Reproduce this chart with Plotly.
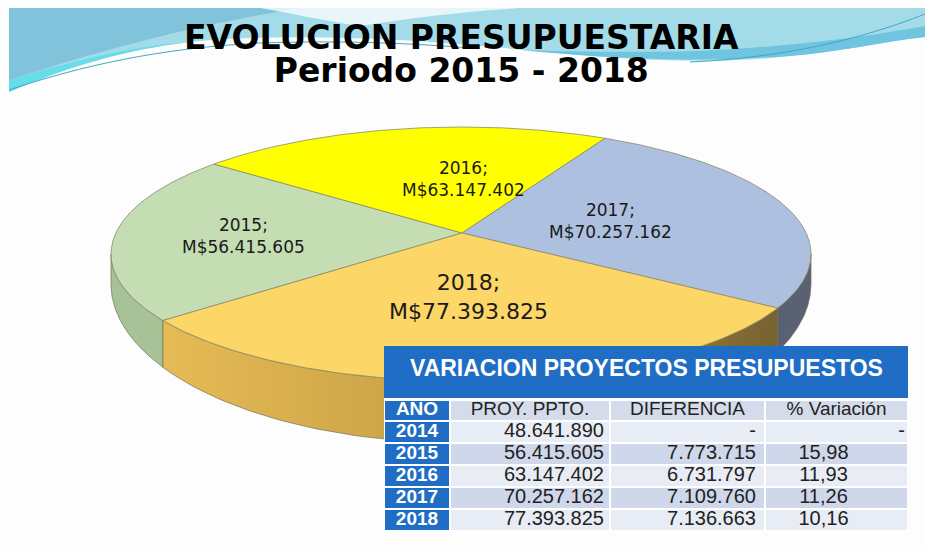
import numpy as np
import plotly.graph_objects as go

# ---------------- data ----------------
anios_pie = ["2015", "2016", "2017", "2018"]
montos_pie = [56415605, 63147402, 70257162, 77393825]

tabla_anios = ["2014", "2015", "2016", "2017", "2018"]
tabla_proy = [48641890, 56415605, 63147402, 70257162, 77393825]
tabla_dif = [None, 7773715, 6731797, 7109760, 7136663]
tabla_var = [None, 15.98, 11.93, 11.26, 10.16]
tabla_encabezados = ["AÑO", "PROY. PPTO.", "DIFERENCIA", "% Variación"]

titulo_1 = "EVOLUCION PRESUPUESTARIA"
titulo_2 = "Periodo 2015 - 2018"
titulo_tabla = "VARIACION PROYECTOS PRESUPUESTOS"

# ---------------- styles ----------------
col_tapa = ["#c4ddb3", "#ffff00", "#adc0df", "#fcd768"]
col_lado = ["#a6c296", "#d8d800", "#596173", "#d9ae4f"]
AZUL = "#1f6dc4"
HEAD = "#d4dbeb"
CLARO, OSCURO = "#e8ecf5", "#cfd7ea"
TXT = "#222222"


def fmt_miles(v):
    return f"{v:,}".replace(",", ".")


def fmt_dec(v):
    return f"{v:.2f}".replace(".", ",")


# geometry of the tilted pie (pixel-like axes)
CX, CY, A, B = 461.0, 254.0, 350.0, 127.0
APX, APY = 462.0, 233.0
T0 = 220.7      # starting angle (deg) of first slice, drawn clockwise
WARP = 12.0     # perspective warp (deg)


def disp(t):
    return t + WARP * np.cos(np.radians(t))


def rim(phi):
    r = np.radians(phi)
    return CX + A * np.cos(r), CY - B * np.sin(r)


def depth(phi):
    return 30 + 32 * np.clip(-np.sin(np.radians(phi)), 0, None)


fig = go.Figure()

total = float(sum(montos_pie))
starts, ends = [], []
acc = 0.0
for v in montos_pie:
    ts = T0 - acc / total * 360.0
    acc += v
    te = T0 - acc / total * 360.0
    starts.append(ts)
    ends.append(te)

# side faces (front part only)
for i, (ts, te) in enumerate(zip(starts, ends)):
    lo, hi = sorted([disp(ts), disp(te)])
    for k in (-2, -1, 0, 1):
        a0 = max(lo + 360 * k, -180.0)
        a1 = min(hi + 360 * k, 0.0)
        if a1 > a0:
            ph = np.linspace(a0, a1, 80)
            xt, yt = rim(ph)
            yb = yt + depth(ph)
            xs = np.concatenate([xt, xt[::-1], xt[:1]])
            ys = np.concatenate([yt, yb[::-1], yt[:1]])
            kw = {}
            if anios_pie[i] == "2018":
                kw["fillgradient"] = dict(
                    type="horizontal",
                    colorscale=[[0, "#e6bb56"], [0.35, "#cfa649"], [0.7, "#a88a3c"], [1, "#766130"]],
                )
            fig.add_trace(go.Scatter(
                x=xs, y=ys, mode="lines", fill="toself", fillcolor=col_lado[i],
                line=dict(color="#70705a", width=0.7), hoverinfo="skip", showlegend=False, **kw))

# top faces
for i, (ts, te) in enumerate(zip(starts, ends)):
    t = np.linspace(ts, te, 160)
    xr, yr = rim(disp(t))
    xs = np.concatenate([[APX], xr, [APX]])
    ys = np.concatenate([[APY], yr, [APY]])
    fig.add_trace(go.Scatter(
        x=xs, y=ys, mode="lines", fill="toself", fillcolor=col_tapa[i],
        line=dict(color="#8a8a6a", width=0.8), hoverinfo="skip", showlegend=False,
        name=anios_pie[i]))

# slice labels
pos_lbl = {"2015": (243, 236, 17), "2016": (463, 179, 17), "2017": (610, 221, 17), "2018": (468, 297, 22)}
for anio, monto in zip(anios_pie, montos_pie):
    x, y, s = pos_lbl[anio]
    fig.add_annotation(x=x, y=y, xref="x", yref="y", showarrow=False,
                       text=f"{anio};<br>M${fmt_miles(monto)}",
                       font=dict(family="DejaVu Sans", size=s, color="#1a1a1a"))

# titles (one text block, line spacing driven by the base size)
big = "<span style='font-size:33px'><b>{}</b></span>"
fig.add_annotation(x=461, y=54, xref="x", yref="y", showarrow=False,
                   text=big.format(titulo_1) + "<br>" + big.format(titulo_2),
                   font=dict(family="DejaVu Sans", size=25, color="#000000"))

# decorative swoosh at top
shapes = [
    dict(type="path", layer="below", line=dict(width=0), fillcolor="#a3dbe9",
         path="M 9,8 L 925,8 L 925,37 C 880,42 840,52 790,56 C 740,62 680,62 620,58 "
              "C 540,52 470,44 400,40 C 320,36 250,36 190,42 C 120,50 60,70 9,92 Z"),
    dict(type="path", layer="below", line=dict(width=0), fillcolor="#80c3da",
         path="M 9,8 L 300,8 C 240,18 150,34 9,80 Z"),
    dict(type="path", layer="below", line=dict(width=0), fillcolor="#66dde9",
         path="M 9,92 C 60,70 120,50 190,42 C 130,46 70,62 9,80 Z"),
    dict(type="path", layer="below", line=dict(width=0), fillcolor="rgba(255,255,255,0.75)",
         path="M 260,8 L 520,8 C 460,12 410,18 360,26 C 320,20 290,13 260,8 Z"),
    dict(type="path", layer="below", line=dict(width=0), fillcolor="#6fc4df",
         path="M 520,50 C 620,60 700,62 790,56 C 840,52 880,42 925,37 L 925,26 "
              "C 870,36 800,46 700,51 C 620,53 560,51 520,50 Z"),
    dict(type="path", layer="below", line=dict(color="#3fa9c6", width=1),
         path="M 9,90 C 80,66 160,48 260,43 C 350,40 420,44 470,48"),
    dict(type="path", layer="below", line=dict(color="#3fa9c6", width=1),
         path="M 690,62 C 780,58 860,40 925,14"),
]
fig.update_layout(shapes=shapes)

# ---------------- table (drawn on an overlaying pixel axis pair) ----------------
x_edges = [384, 450, 610, 765, 908]
y_edges = [400, 421, 443, 465, 487, 509, 531]
cscale = [[0, AZUL], [1 / 3, HEAD], [2 / 3, CLARO], [1, OSCURO]]

# white backing of the whole table block
fig.add_trace(go.Heatmap(x=[384, 908], y=[346, 531], z=[[0]], xaxis="x2", yaxis="y2",
                         colorscale=[[0, "#ffffff"], [1, "#ffffff"]], showscale=False, hoverinfo="skip"))
# title bar
fig.add_trace(go.Heatmap(x=[384, 908], y=[346, 398], z=[[0]], xaxis="x2", yaxis="y2",
                         colorscale=cscale, zmin=0, zmax=3, showscale=False, hoverinfo="skip"))
fig.add_annotation(x=646, y=368, xref="x", yref="y", showarrow=False, text=f"<b>{titulo_tabla}</b>",
                   font=dict(family="Liberation Sans", size=23, color="white"))

zc = [[0, 1, 1, 1]]
for j in range(len(tabla_anios)):
    c = 2 if j % 2 == 0 else 3
    zc.append([0, c, c, c])
fig.add_trace(go.Heatmap(x=x_edges, y=y_edges, z=zc, xaxis="x2", yaxis="y2",
                         colorscale=cscale, zmin=0, zmax=3, showscale=False,
                         xgap=2, ygap=2, hoverinfo="skip"))

yc = [(y_edges[i] + y_edges[i + 1]) / 2 for i in range(len(y_edges) - 1)]
xcen = [(x_edges[i] + x_edges[i + 1]) / 2 for i in range(len(x_edges) - 1)]

# header texts
fig.add_trace(go.Scatter(
    x=xcen, y=[yc[0]] * 4, xaxis="x2", yaxis="y2", mode="text",
    text=[f"<b>{tabla_encabezados[0]}</b>"] + tabla_encabezados[1:],
    textposition="middle center",
    textfont=dict(family="Liberation Sans", size=19, color=["white", TXT, TXT, TXT]),
    hoverinfo="skip", showlegend=False))

# year column
fig.add_trace(go.Scatter(
    x=[xcen[0]] * len(tabla_anios), y=yc[1:], xaxis="x2", yaxis="y2", mode="text",
    text=[f"<b>{a}</b>" for a in tabla_anios], textposition="middle center",
    textfont=dict(family="Liberation Sans", size=19, color="white"),
    hoverinfo="skip", showlegend=False))

# PROY. PPTO.
fig.add_trace(go.Scatter(
    x=[x_edges[2] - 6] * len(tabla_proy), y=yc[1:], xaxis="x2", yaxis="y2", mode="text",
    text=[fmt_miles(v) for v in tabla_proy], textposition="middle left",
    textfont=dict(family="Liberation Sans", size=20, color=TXT),
    hoverinfo="skip", showlegend=False))

# DIFERENCIA
fig.add_trace(go.Scatter(
    x=[x_edges[3] - 9] * len(tabla_dif), y=yc[1:], xaxis="x2", yaxis="y2", mode="text",
    text=["-" if v is None else fmt_miles(v) for v in tabla_dif], textposition="middle left",
    textfont=dict(family="Liberation Sans", size=20, color=TXT),
    hoverinfo="skip", showlegend=False))

# % Variación
fig.add_trace(go.Scatter(
    x=[x_edges[4] - 3 if v is None else xcen[3] - 13 for v in tabla_var], y=yc[1:],
    xaxis="x2", yaxis="y2", mode="text",
    text=["-" if v is None else fmt_dec(v) for v in tabla_var],
    textposition=["middle left" if v is None else "middle center" for v in tabla_var],
    textfont=dict(family="Liberation Sans", size=20, color=TXT),
    hoverinfo="skip", showlegend=False))

fig.update_layout(
    width=925, height=550, margin=dict(l=0, r=0, t=0, b=0),
    paper_bgcolor="#fdfdfd", plot_bgcolor="rgba(0,0,0,0)",
    xaxis=dict(range=[0, 925], visible=False, fixedrange=True),
    yaxis=dict(range=[550, 0], visible=False, fixedrange=True),
    xaxis2=dict(range=[0, 925], visible=False, fixedrange=True, overlaying="x"),
    yaxis2=dict(range=[550, 0], visible=False, fixedrange=True, overlaying="y"),
    showlegend=False,
)

fig.write_html("out.html", config={"displayModeBar": False},
               post_script="document.body.style.margin='0';")
